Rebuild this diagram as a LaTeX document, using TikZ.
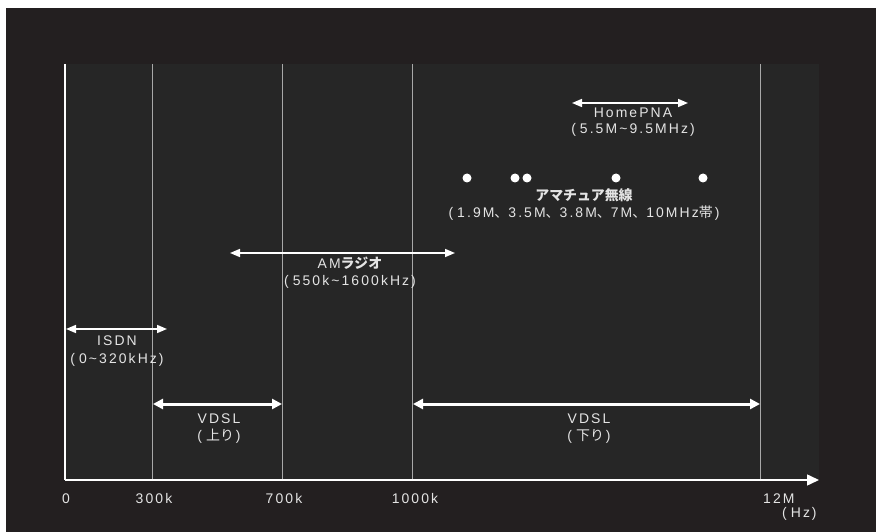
\documentclass[tikz,border=0pt]{standalone}
\usepackage{fontspec}
\setmainfont{Liberation Sans}
\newfontfamily\lat[LetterSpace=15]{Liberation Sans}
\newfontfamily\jp{Noto Sans CJK JP}
\usetikzlibrary{arrows.meta}
\definecolor{outerbg}{HTML}{231F20}
\definecolor{innerbg}{HTML}{262626}
\definecolor{txt}{HTML}{E4E4E4}
\definecolor{gridc}{HTML}{A8A8A8}
\newcommand{\J}[1]{{\jp #1}}
\newcommand{\op}{(\hspace{4bp}}
\newcommand{\cp}{\hspace{2bp})}
\begin{document}
\begin{tikzpicture}[x=1bp,y=-1bp,
  lbl/.style={text=txt,font=\lat\fontsize{14}{16}\selectfont,inner sep=0pt,anchor=base},
  gridline/.style={draw=gridc,line width=1bp},
  axisline/.style={draw=white,line width=1.5bp},
  thinarrow/.style={draw=white,line width=1.5bp,{Triangle[length=10bp,width=8bp]}-{Triangle[length=10bp,width=8bp]}},
  thickarrow/.style={draw=white,line width=3bp,{Triangle[length=10bp,width=10bp]}-{Triangle[length=10bp,width=10bp]}},
  dot/.style={circle,fill=white,inner sep=0pt,minimum size=9bp}]
\useasboundingbox (0,0) rectangle (882,532);
\fill[white] (0,0) rectangle (882,532);
\fill[outerbg] (6,8) rectangle (876,532);
\fill[innerbg] (65,64) rectangle (819,480);
% grid lines
\coordinate (g1t) at (152,64); \coordinate (g1b) at (152,480);
\coordinate (g2t) at (282,64); \coordinate (g2b) at (282,480);
\coordinate (g3t) at (412,64); \coordinate (g3b) at (412,480);
\coordinate (g4t) at (760,64); \coordinate (g4b) at (760,480);
\draw[gridline] (g1t) -- (g1b);
\draw[gridline] (g2t) -- (g2b);
\draw[gridline] (g3t) -- (g3b);
\draw[gridline] (g4t) -- (g4b);
% axes
\coordinate (ytop) at (65,64);
\coordinate (orig) at (65,480);
\coordinate (xend) at (819,480);
\draw[axisline] (ytop) -- (orig);
\draw[axisline,-{Triangle[length=12bp,width=11bp]}] (orig) -- (xend);
% axis labels
\node[lbl] (l0) at (66,503) {0};
\node[lbl] (l300) at (154,503) {300k};
\node[lbl] (l700) at (284,503) {700k};
\node[lbl] (l1000) at (415,503) {1000k};
\node[lbl,anchor=base west] (l12m) at (763,503) {12M};
\node[lbl,anchor=base west] (lhz) at (782,517) {\op Hz\cp};
% HomePNA
\coordinate (hpa) at (572,103); \coordinate (hpb) at (688,103);
\draw[thinarrow] (hpa) -- (hpb);
\node[lbl] (hp1) at (633,118) {HomePNA};
\node[lbl] (hp2) at (633,134) {\op 5.5M\textasciitilde 9.5MHz\cp};
% amateur radio dots
\node[dot] (d1) at (467,178) {};
\node[dot] (d2) at (515,178) {};
\node[dot] (d3) at (527,178) {};
\node[dot] (d4) at (616,178) {};
\node[dot] (d5) at (703,178) {};
\node[lbl] (am1) at (584,201) {\J{\bfseries アマチュア無線}};
\node[lbl] (am2) at (584,218) {\op 1.9M\J{、}3.5M\J{、}3.8M\J{、}7M\J{、}10MHz\J{帯}\cp};
% AM radio
\coordinate (ra) at (230,253); \coordinate (rb) at (455,253);
\draw[thinarrow] (ra) -- (rb);
\node[lbl] (r1) at (350,269) {AM\J{\bfseries ラジオ}};
\node[lbl] (r2) at (350,286) {\op 550k\textasciitilde 1600kHz\cp};
% ISDN
\coordinate (ia) at (66,329); \coordinate (ib) at (167,329);
\draw[thinarrow] (ia) -- (ib);
\node[lbl] (i1) at (117,346) {ISDN};
\node[lbl] (i2) at (117,363) {\op 0\textasciitilde 320kHz\cp};
% VDSL up
\coordinate (va) at (153,404); \coordinate (vb) at (282,404);
\draw[thickarrow] (va) -- (vb);
\node[lbl] (v1) at (219,423) {VDSL};
\node[lbl] (v2) at (219,440) {\op\J{上り}\cp};
% VDSL down
\coordinate (wa) at (413,404); \coordinate (wb) at (760,404);
\draw[thickarrow] (wa) -- (wb);
\node[lbl] (w1) at (589,423) {VDSL};
\node[lbl] (w2) at (589,440) {\op\J{下り}\cp};
\end{tikzpicture}
\end{document}
